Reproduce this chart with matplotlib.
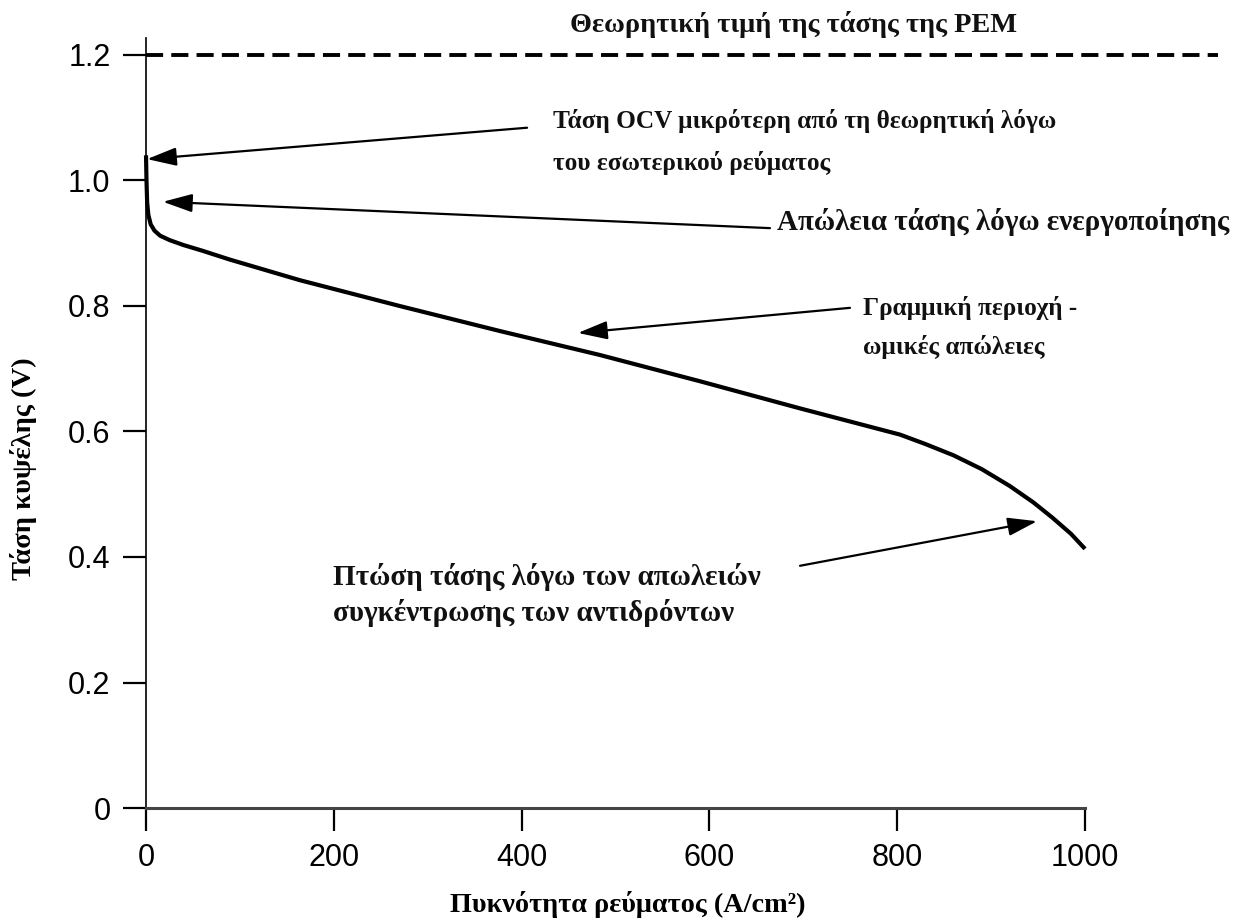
import numpy as np
import matplotlib
matplotlib.use("Agg")
import matplotlib.pyplot as plt

# polarisation curve
current = [0, 0.5, 1.2, 2.5, 5, 9, 15, 25, 40, 60, 89, 164, 270, 377, 483,
           590, 696, 803, 830, 860, 890, 920, 945, 965, 985, 1000]
voltage = [1.04, 1.0, 0.965, 0.945, 0.93, 0.92, 0.912, 0.905, 0.897, 0.888,
           0.874, 0.841, 0.800, 0.760, 0.722, 0.680, 0.637, 0.595, 0.580,
           0.562, 0.540, 0.513, 0.487, 0.463, 0.437, 0.413]
theory_v = 1.2
theory_x = [0, 1142]

xticks = [0, 200, 400, 600, 800, 1000]
yticks = [0, 0.2, 0.4, 0.6, 0.8, 1.0, 1.2]
ytick_labels = ["0", "0.2", "0.4", "0.6", "0.8", "1.0", "1.2"]

serif = ["Liberation Serif", "DejaVu Serif"]
sans = ["Liberation Sans", "DejaVu Sans"]

fig = plt.figure(figsize=(12.48, 9.24), dpi=100)
ax = fig.add_axes([0.117, 0.1255, 0.7524, 0.8334])

ax.plot(current, voltage, color="black", lw=3, solid_capstyle="butt",
        solid_joinstyle="round", clip_on=False)
ax.plot(theory_x, [theory_v, theory_v], color="black", lw=2.8,
        linestyle=(0, (4.4, 2.1)), clip_on=False)

ax.set_xlim(0, 1000)
ax.set_ylim(0, 1.227)
ax.spines["top"].set_visible(False)
ax.spines["right"].set_visible(False)
ax.spines["left"].set_linewidth(1.2)
ax.spines["bottom"].set_linewidth(2.2)
ax.spines["bottom"].set_color("#444444")

ax.set_xticks(xticks)
ax.set_xticklabels([str(v) for v in xticks], family=sans, fontsize=22)
ax.set_yticks(yticks)
ax.set_yticklabels(ytick_labels, family=sans, fontsize=22)
ax.tick_params(axis="both", direction="out", length=16.5, width=1.6, color="black")
ax.tick_params(axis="x", pad=9)
ax.tick_params(axis="y", pad=9)

arrow = dict(arrowstyle="-|>,head_length=0.9,head_width=0.28", color="black",
             lw=1.6, mutation_scale=20, shrinkA=0, shrinkB=0)

def note(tip, tail):
    ax.annotate("", xy=tip, xytext=tail, arrowprops=arrow, annotation_clip=False)

note((1.1, 1.034), (405.8, 1.084))
note((18, 0.966), (664.5, 0.924))
note((460, 0.757), (749.7, 0.797))
note((949, 0.457), (696.5, 0.386))

txt = dict(family=serif, fontweight="bold", color="#111111", clip_on=False,
           ha="left", va="center")
ax.text(451.5, 1.248, "Θεωρητική τιμή της τάσης της PEM", fontsize=20.4, **txt)
ax.text(433.4, 1.062, "Τάση OCV μικρότερη από τη θεωρητική λόγω\nτου εσωτερικού ρεύματος",
        fontsize=18.2, linespacing=1.95, **txt)
ax.text(672, 0.934, "Απώλεια τάσης λόγω ενεργοποίησης", fontsize=21, **txt)
ax.text(763.6, 0.766, "Γραμμική περιοχή -\nωμικές απώλειες", fontsize=18.2,
        linespacing=1.8, **txt)
ax.text(199, 0.339, "Πτώση τάσης λόγω των απωλειών\nσυγκέντρωσης των αντιδρόντων",
        fontsize=21, linespacing=1.35, **txt)

fig.text(0.0192, 0.4924, "Τάση κυψέλης (V)", rotation=90, ha="center", va="center",
         family=serif, fontweight="bold", fontsize=20.5)
fig.text(0.503, 0.0206, "Πυκνότητα ρεύματος (A/cm²)", ha="center", va="center",
         family=serif, fontweight="bold", fontsize=20.3)

fig.savefig("out.png", dpi=100, facecolor="white")
